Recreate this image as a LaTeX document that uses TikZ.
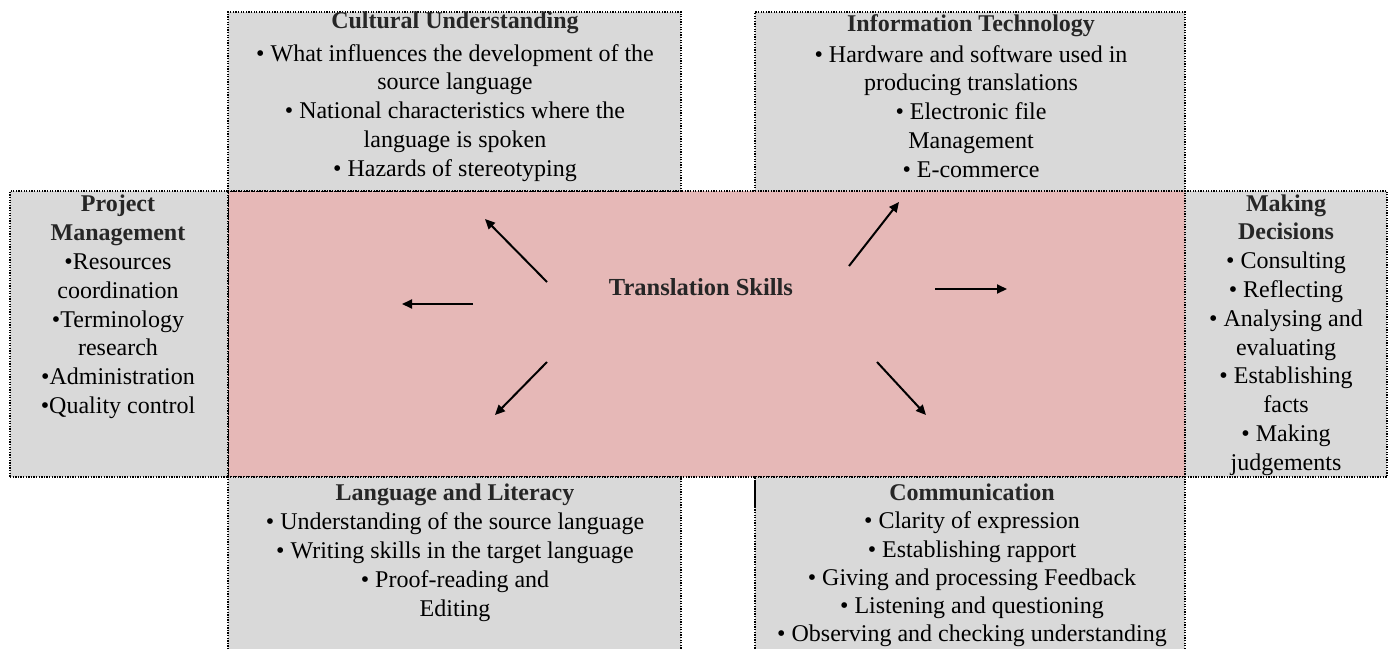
\documentclass[tikz,border=0pt]{standalone}
\usepackage{fontspec}
\setmainfont{Liberation Serif}
\usetikzlibrary{arrows.meta}
\definecolor{pinkfill}{HTML}{E6B8B7}
\definecolor{grayfill}{HTML}{D9D9D9}
\definecolor{headink}{HTML}{262626}
\newcommand{\hd}[1]{{\bfseries\color{headink}#1}}
\newcommand{\bl}{\textbullet{} }
\begin{document}
\begin{tikzpicture}[x=1pt,y=-1pt,
  panel/.style={draw=black, line width=1.2pt, dash pattern=on 1.3pt off 1.3pt,
    inner sep=0pt, outer sep=0pt},
  hub/.style={panel, fill=pinkfill},
  side/.style={panel, fill=grayfill},
  txt/.style={align=center, inner sep=0pt, font=\fontsize{24}{28.8}\selectfont},
  arr/.style={line width=2pt, -{Triangle[length=10pt,width=9pt]}}
]
\useasboundingbox (0,0) rectangle (1394,648);
\clip (0,0) rectangle (1394,648);

% central area and the six surrounding panels
\node[hub,  minimum width=957pt, minimum height=286pt] (hubbox) at (706.5,334) {};
\node[side, minimum width=218pt, minimum height=286pt] (pmbox) at (119,334) {};
\node[side, minimum width=202pt, minimum height=286pt] (mdbox) at (1286,334) {};
\node[side, minimum width=453pt, minimum height=179pt] (cubox) at (454.5,101.5) {};
\node[side, minimum width=430pt, minimum height=179pt] (itbox) at (970,101.5) {};
\node[side, minimum width=453pt, minimum height=223pt] (llbox) at (454.5,588.5) {};
\node[side, minimum width=430pt, minimum height=223pt] (cobox) at (970,588.5) {};

% panel texts
\node[txt] (cu) at (455,96.5) {\hd{Cultural Understanding}\\[4pt]
  \bl What influences the development of the\\
  source language\\
  \bl National characteristics where the\\
  language is spoken\\
  \bl Hazards of stereotyping};

\node[txt] (it) at (971,96) {\hd{Information Technology}\\[2pt]
  \bl Hardware and software used in\\
  producing translations\\
  \bl Electronic file\\
  Management\\
  \bl E-commerce};

\node[txt] (pm) at (118,307) {\hd{Project}\\ \hd{Management}\\
  \textbullet Resources\\ coordination\\
  \textbullet Terminology\\ research\\
  \textbullet Administration\\
  \textbullet Quality control};

\node[txt] (md) at (1286,335) {\hd{Making}\\ \hd{Decisions}\\
  \bl Consulting\\
  \bl Reflecting\\
  \bl Analysing and\\ evaluating\\
  \bl Establishing\\ facts\\
  \bl Making\\ judgements};

\node[txt] (ll) at (455,552.5) {\hd{Language and Literacy}\\[1pt]
  \bl Understanding of the source language\\
  \bl Writing skills in the target language\\
  \bl Proof-reading and\\
  Editing};

\node[txt, font=\fontsize{24}{28.2}\selectfont] (co) at (972,565.5) {\hd{Communication}\\
  \bl Clarity of expression\\
  \bl Establishing rapport\\
  \bl Giving and processing Feedback\\
  \bl Listening and questioning\\
  \bl Observing and checking understanding};

\node[txt, font=\fontsize{24.5}{29}\selectfont] (ts) at (701,287) {\hd{Translation Skills}};

% arrows radiating from the centre
\coordinate (ulS) at (547,282);  \coordinate (ulE) at (485,219);
\coordinate (lS)  at (473,304);  \coordinate (lE)  at (402,304);
\coordinate (dlS) at (547,362);  \coordinate (dlE) at (495,415);
\coordinate (urS) at (849,266);  \coordinate (urE) at (899,202);
\coordinate (rS)  at (935,289);  \coordinate (rE)  at (1007,289);
\coordinate (drS) at (877,362);  \coordinate (drE) at (926,415);
\draw[arr] (ulS) -- (ulE);
\draw[arr] (lS) -- (lE);
\draw[arr] (dlS) -- (dlE);
\draw[arr] (urS) -- (urE);
\draw[arr] (rS) -- (rE);
\draw[arr] (drS) -- (drE);

% short dark bar at the corner of the communication panel
\coordinate (barT) at (755,480); \coordinate (barB) at (755,507);
\draw[line width=2pt] (barT) -- (barB);
\end{tikzpicture}
\end{document}
